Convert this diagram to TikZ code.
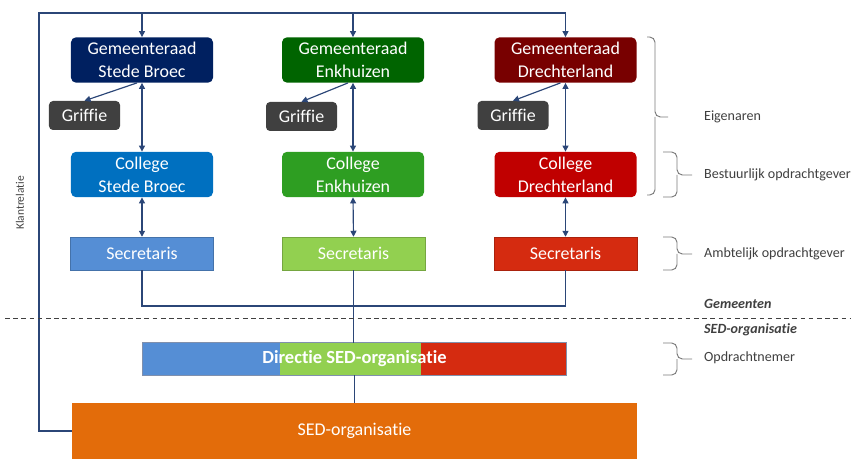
\documentclass[tikz,border=0pt]{standalone}
\usepackage{fontspec}
\setmainfont[Ligatures=NoCommon]{Carlito}
\usetikzlibrary{positioning}
\usetikzlibrary{arrows.meta}

\definecolor{raadSBc}{HTML}{002060}
\definecolor{raadENc}{HTML}{006400}
\definecolor{raadDLc}{HTML}{780000}
\definecolor{colSBc}{HTML}{0070C0}
\definecolor{colENc}{HTML}{2E9E22}
\definecolor{colDLc}{HTML}{C00000}
\definecolor{secSBc}{HTML}{558ED5}
\definecolor{secENc}{HTML}{92D050}
\definecolor{secDLc}{HTML}{D52B10}
\definecolor{grifc}{HTML}{404040}
\definecolor{sedc}{HTML}{E36C0A}
\definecolor{linkc}{HTML}{2B4677}
\definecolor{labelc}{HTML}{404040}

\begin{document}
\begin{tikzpicture}[x=0.03cm, y=-0.03cm,
   font=\fontsize{15.3}{19.5}\selectfont,
   orgbox/.style={rounded corners=0.15cm, text=white, align=center, inner sep=0pt,
      minimum width=4.26cm, minimum height=1.36cm},
   grifbox/.style={rounded corners=0.12cm, fill=grifc, text=white, inner sep=0pt,
      minimum width=2.13cm, minimum height=0.87cm},
   secbox/.style={text=white, inner sep=0pt, minimum width=4.29cm, minimum height=0.99cm},
   link/.style={draw=linkc, line width=1pt},
   tip/.style={-{Triangle[length=1.8mm,width=1.8mm]}},
   tips/.style={{Triangle[length=1.8mm,width=1.8mm]}-{Triangle[length=1.8mm,width=1.8mm]}},
   brace/.style={draw=labelc!70, line width=0.8pt, rounded corners=0.16cm},
   side/.style={anchor=west, text=labelc, font=\fontsize{12}{14}\selectfont}]
\useasboundingbox (0,0) rectangle (851,459);

% gemeenteraden
\node[orgbox, fill=raadSBc] (raadSB) at (142,60) {Gemeenteraad\\Stede Broec};
\node[orgbox, fill=raadENc] (raadEN) at (353,60) {Gemeenteraad\\Enkhuizen};
\node[orgbox, fill=raadDLc] (raadDL) at (565.5,60) {Gemeenteraad\\Drechterland};

\node[grifbox] (grifSB) at (84.5,115.5) {Griffie};
\node[grifbox] (grifEN) at (301.5,116.5) {Griffie};
\node[grifbox] (grifDL) at (513,115.5) {Griffie};

% colleges
\node[orgbox, fill=colSBc] (colSB) at (142,174.5) {College\\Stede Broec};
\node[orgbox, fill=colENc] (colEN) at (353,174.5) {College\\Enkhuizen};
\node[orgbox, fill=colDLc] (colDL) at (565.5,174.5) {College\\Drechterland};

% secretarissen
\node[secbox, fill=secSBc, draw=secSBc!80!black] (secSB) at (142,253.5) {Secretaris};
\node[secbox, fill=secENc, draw=secENc!80!black] (secEN) at (353.5,253.5) {Secretaris};
\node[secbox, fill=secDLc, draw=secDLc!80!black] (secDL) at (565.5,253.5) {Secretaris};

% SED
\node[minimum width=12.69cm, minimum height=0.96cm, inner sep=0pt] (dir) at (354.5,359) {};
\fill[secSBc] (dir.north west) rectangle (280,375);
\fill[secENc] (280,343) rectangle (421,375);
\fill[secDLc] (421,343) rectangle (dir.south east);
\draw[linkc!60, line width=0.6pt] (dir.north west) rectangle (dir.south east);
\node[text=white, font=\fontsize{15.8}{18}\selectfont\bfseries] at (dir) {Directie SED-organisatie};

\node[fill=sedc, text=white, inner sep=0pt, minimum width=16.95cm,
   minimum height=1.68cm] (sed) at (354.5,431) {SED-organisatie};

\coordinate (klant) at (39,13);
\coordinate (bus) at (353,306);

% verbindingen
\draw[link, tip] (sed.west) -| (klant) -| (raadDL.north);
\draw[link, tip] (raadSB.north |- klant) -- (raadSB.north);
\draw[link, tip] (raadEN.north |- klant) -- (raadEN.north);
\node[rotate=90, text=labelc, font=\fontsize{9.8}{12}\selectfont] (klantlabel) at (20,203) {Klantrelatie};

\draw[link, tips] (raadSB.south) -- (colSB.north);
\draw[link, tips] (raadEN.south) -- (colEN.north);
\draw[link, tips] (raadDL.south) -- (colDL.north);
\draw[link, tip] ([xshift=-0.15cm]raadSB.south) -- (grifSB.north);
\draw[link, tip] ([xshift=-0.15cm]raadEN.south) -- (grifEN.north);
\draw[link, tip] ([xshift=-0.15cm]raadDL.south) -- (grifDL.north);

\draw[link, tips] (colSB.south) -- (secSB.north);
\draw[link, tips] (colEN.south) -- (secEN.north);
\draw[link, tips] (colDL.south) -- (secDL.north);

\draw[link] (secSB.south) |- (bus) -| (secDL.south);
\draw[link] (secEN.south) -- (secEN.south |- dir.north);
\draw[link] (dir.south) -- (sed.north);

\draw[labelc, line width=0.8pt, dash pattern=on 4pt off 3pt] (5,318) -- (851,318);

% accolades
\draw[brace] (647,37) -| (655,117) -- (668,117);
\draw[brace] (647,195) -| (655,117);
\draw[brace] (663,152) -| (677,175) -- (692,175);
\draw[brace] (663,197) -| (677,175);
\draw[brace] (663,237) -| (677,254) -- (692,254);
\draw[brace] (663,270) -| (677,254);
\draw[brace] (663,343) -| (677,359) -- (692,359);
\draw[brace] (663,375) -| (677,359);

\node[side] (eigen) at (700,117) {Eigenaren};
\node[side] (bestuur) at (700,175) {Bestuurlijk opdrachtgever};
\node[side] (ambt) at (700,254) {Ambtelijk opdrachtgever};
\node[side, font=\fontsize{12}{14}\selectfont\bfseries\itshape] (gem) at (700,304) {Gemeenten};
\node[side, font=\fontsize{12}{14}\selectfont\bfseries\itshape] (sedlabel) at (700,330) {SED-organisatie};
\node[side] (opdr) at (700,358) {Opdrachtnemer};
\end{tikzpicture}
\end{document}
